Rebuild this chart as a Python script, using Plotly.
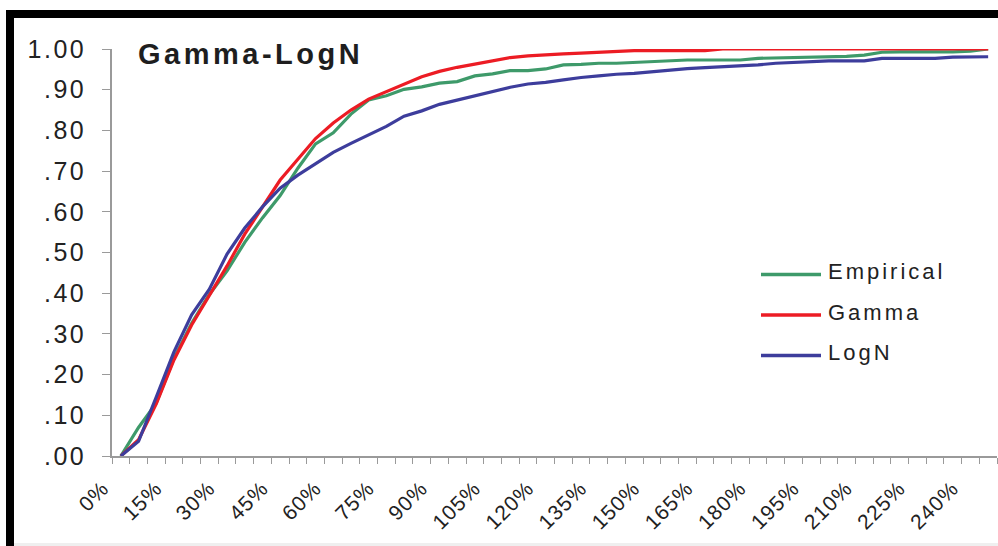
import plotly.graph_objects as go

# Loss-ratio levels (category axis, every 5%)
levels = list(range(0, 250, 5))

empirical = [0.000, 0.070, 0.130, 0.240, 0.326, 0.397, 0.455, 0.525, 0.585, 0.640,
             0.707, 0.767, 0.794, 0.840, 0.875, 0.885, 0.901, 0.907, 0.916, 0.920,
             0.934, 0.939, 0.947, 0.947, 0.951, 0.961, 0.962, 0.965, 0.965, 0.967,
             0.968, 0.972, 0.973, 0.973, 0.973, 0.973, 0.977, 0.978, 0.978, 0.980,
             0.981, 0.982, 0.985, 0.992, 0.993, 0.993, 0.993, 0.993, 0.995, 1.000]

gamma = [0.000, 0.040, 0.128, 0.236, 0.322, 0.393, 0.467, 0.545, 0.610, 0.678,
         0.729, 0.780, 0.818, 0.850, 0.877, 0.895, 0.915, 0.932, 0.945, 0.955,
         0.963, 0.972, 0.979, 0.983, 0.986, 0.988, 0.990, 0.992, 0.995, 0.996,
         0.996, 0.996, 0.996, 0.996, 1.000, 1.000, 1.000, 1.000, 1.000, 1.000,
         1.000, 1.000, 1.000, 1.000, 1.000, 1.000, 1.000, 1.000, 1.000, 1.000]

logn = [0.000, 0.036, 0.145, 0.256, 0.347, 0.410, 0.496, 0.560, 0.612, 0.658,
        0.690, 0.717, 0.746, 0.768, 0.790, 0.810, 0.835, 0.848, 0.864, 0.875,
        0.885, 0.896, 0.906, 0.914, 0.918, 0.924, 0.930, 0.934, 0.938, 0.940,
        0.944, 0.949, 0.952, 0.954, 0.956, 0.958, 0.961, 0.965, 0.967, 0.968,
        0.971, 0.971, 0.971, 0.977, 0.977, 0.977, 0.977, 0.980, 0.981, 0.981]

series_names = ["Empirical", "Gamma", "LogN"]
series_colors = ["#3E9A6A", "#EC1C24", "#3D3D9C"]
series_values = [empirical, gamma, logn]

x_tick_vals = list(range(0, 245, 15))
y_tick_vals = [i / 10 for i in range(11)]
y_tick_text = ["1.00" if v == 1 else "." + f"{v:.2f}".split(".")[1] for v in y_tick_vals]

FONT = "Liberation Sans, Arial, sans-serif"
W, H = 998, 546
L, R, T, B = 112, 1, 49, 90
PW, PH = W - L - R, H - T - B


def px(x):
    return (x - L) / PW


def py(y):
    return (H - B - y) / PH


def spaced(text, gap):
    return f"<span style='letter-spacing:{gap}px'>{text}</span>"


fig = go.Figure()
for name, color, vals in zip(series_names, series_colors, series_values):
    fig.add_trace(go.Scatter(x=levels, y=vals, mode="lines", name=name,
                             line=dict(color=color, width=3.2),
                             showlegend=False))

fig.update_layout(
    width=W, height=H,
    margin=dict(l=L, r=R, t=T, b=B),
    paper_bgcolor="white", plot_bgcolor="white",
    font=dict(family=FONT, color="#222222"),
    xaxis=dict(
        range=[-2.5, 247.5], showgrid=False, zeroline=False,
        showline=True, linecolor="#9a9a9a", linewidth=1.5,
        tickmode="array", tickvals=x_tick_vals,
        ticktext=[spaced(f"{v}%", 1) for v in x_tick_vals],
        tickangle=-45, ticks="", tickfont=dict(size=21, color="#222222"),
        ticklabelshift=-18, ticklabelstandoff=10,
        minor=dict(ticks="outside", tickmode="linear", tick0=-2.5, dtick=5,
                   ticklen=6, tickcolor="#9a9a9a", tickwidth=1.2, showgrid=False),
    ),
    yaxis=dict(
        range=[0, 1], showgrid=False, zeroline=False,
        showline=True, linecolor="#9a9a9a", linewidth=1.5,
        tickmode="array", tickvals=y_tick_vals,
        ticktext=[spaced(t, 2.5) for t in y_tick_text],
        ticks="outside", ticklen=8, tickcolor="#9a9a9a", tickwidth=1.2,
        tickfont=dict(size=25, color="#222222"), ticklabelstandoff=11,
    ),
)

# Frame around the chart
shapes = [
    dict(type="rect", xref="paper", yref="paper", x0=px(6), x1=px(1002),
         y0=py(10), y1=py(18), fillcolor="black", line=dict(width=0)),
    dict(type="rect", xref="paper", yref="paper", x0=px(6), x1=px(14),
         y0=py(10), y1=py(550), fillcolor="black", line=dict(width=0)),
    dict(type="rect", xref="paper", yref="paper", x0=px(14), x1=px(1002),
         y0=py(543), y1=py(550), fillcolor="#efefef", line=dict(width=0)),
]

# Legend keys
legend_y = [274.5, 315, 355.5]
for color, ly in zip(series_colors, legend_y):
    shapes.append(dict(type="line", xref="paper", yref="paper",
                       x0=px(761), x1=px(821), y0=py(ly), y1=py(ly),
                       line=dict(color=color, width=3.5)))
fig.update_layout(shapes=shapes)

annotations = [
    dict(text="<b>" + spaced("Gamma-LogN", 3.5) + "</b>", xref="paper", yref="paper",
         x=px(136), y=py(54), xanchor="left", yanchor="middle", showarrow=False,
         font=dict(size=29, color="#1e1e1e", family=FONT)),
]
for name, ly in zip(series_names, legend_y):
    annotations.append(dict(text=spaced(name, 3), xref="paper", yref="paper",
                            x=px(826), y=py(ly - 3), xanchor="left", yanchor="middle",
                            showarrow=False, font=dict(size=22, color="#222222", family=FONT)))
fig.update_layout(annotations=annotations)

fig.write_html("out.html")
